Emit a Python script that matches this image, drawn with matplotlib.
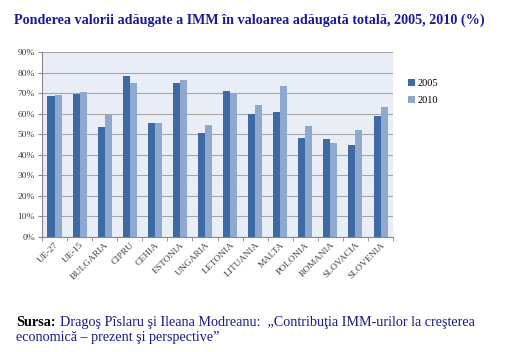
import numpy as np
import matplotlib.pyplot as plt
from matplotlib.ticker import PercentFormatter

tari = ["UE-27", "UE-15", "BULGARIA", "CIPRU", "CEHIA", "ESTONIA", "UNGARIA",
        "LETONIA", "LITUANIA", "MALTA", "POLONIA", "ROMANIA", "SLOVACIA", "SLOVENIA"]
val_2005 = [68.4, 69.6, 53.4, 78.3, 55.5, 74.8, 50.5, 71.0, 59.9, 60.7, 48.4, 47.7, 44.7, 59.1]
val_2010 = [69.3, 70.6, 59.4, 74.9, 55.7, 76.2, 54.7, 70.1, 64.2, 73.5, 54.0, 45.6, 52.1, 63.4]

plt.rcParams['font.family'] = ['Liberation Serif', 'DejaVu Serif']

fig = plt.figure(figsize=(5.28, 3.52), dpi=100)
ax = fig.add_axes([0.0795, 0.327, 0.665, 0.525])
ax.set_facecolor('#e9edf5')

x = np.arange(len(tari))
w = 0.28
ax.bar(x - w / 2, val_2005, w, color='#3e6aa3', label='2005', zorder=3)
ax.bar(x + w / 2, val_2010, w, color='#8ea8d0', label='2010', zorder=3)

ax.set_xlim(-0.5, len(tari) - 0.5)
ax.set_ylim(0, 90)
ax.set_yticks(np.arange(0, 91, 10))
ax.yaxis.set_major_formatter(PercentFormatter(decimals=0))
ax.grid(axis='y', color='#a6a6a6', linewidth=0.8, zorder=0)

ax.set_xticks(x)
ax.set_xticklabels(tari, rotation=45, ha='right', rotation_mode='anchor', fontsize=6.8,
                   color='#404040')
ax.set_xticks(np.arange(-0.5, len(tari), 1), minor=True)
ax.tick_params(axis='x', which='major', length=0, pad=3)
ax.tick_params(axis='x', which='minor', length=3, color='#888888')
ax.tick_params(axis='y', labelsize=6.8, labelcolor='#404040', length=3, color='#888888', pad=2)

for s in ['top', 'right']:
    ax.spines[s].set_visible(False)
ax.spines['left'].set_color('#888888')
ax.spines['bottom'].set_color('#888888')

ax.legend(loc='upper left', bbox_to_anchor=(1.015, 0.905), frameon=False,
          fontsize=7.5, handlelength=0.7, handleheight=0.7, handletextpad=0.2,
          labelspacing=0.7)

fig.text(0.027, 0.943, "Ponderea valorii adăugate a IMM în valoarea adăugată totală, 2005, 2010 (%)",
         fontsize=10.2, fontweight='bold', color='#1a1a9a', va='center')

fig.text(0.03, 0.085, "Sursa:", fontsize=10.2, fontweight='bold', color='black', va='center')
fig.text(0.114, 0.085, "Dragoş Pîslaru şi Ileana Modreanu:  „Contribuţia IMM-urilor la creşterea",
         fontsize=10.2, color='#1a1a8a', va='center')
fig.text(0.03, 0.04, "economică – prezent şi perspective”", fontsize=10.2, color='#1a1a8a', va='center')

fig.savefig('out.png', dpi=100)
